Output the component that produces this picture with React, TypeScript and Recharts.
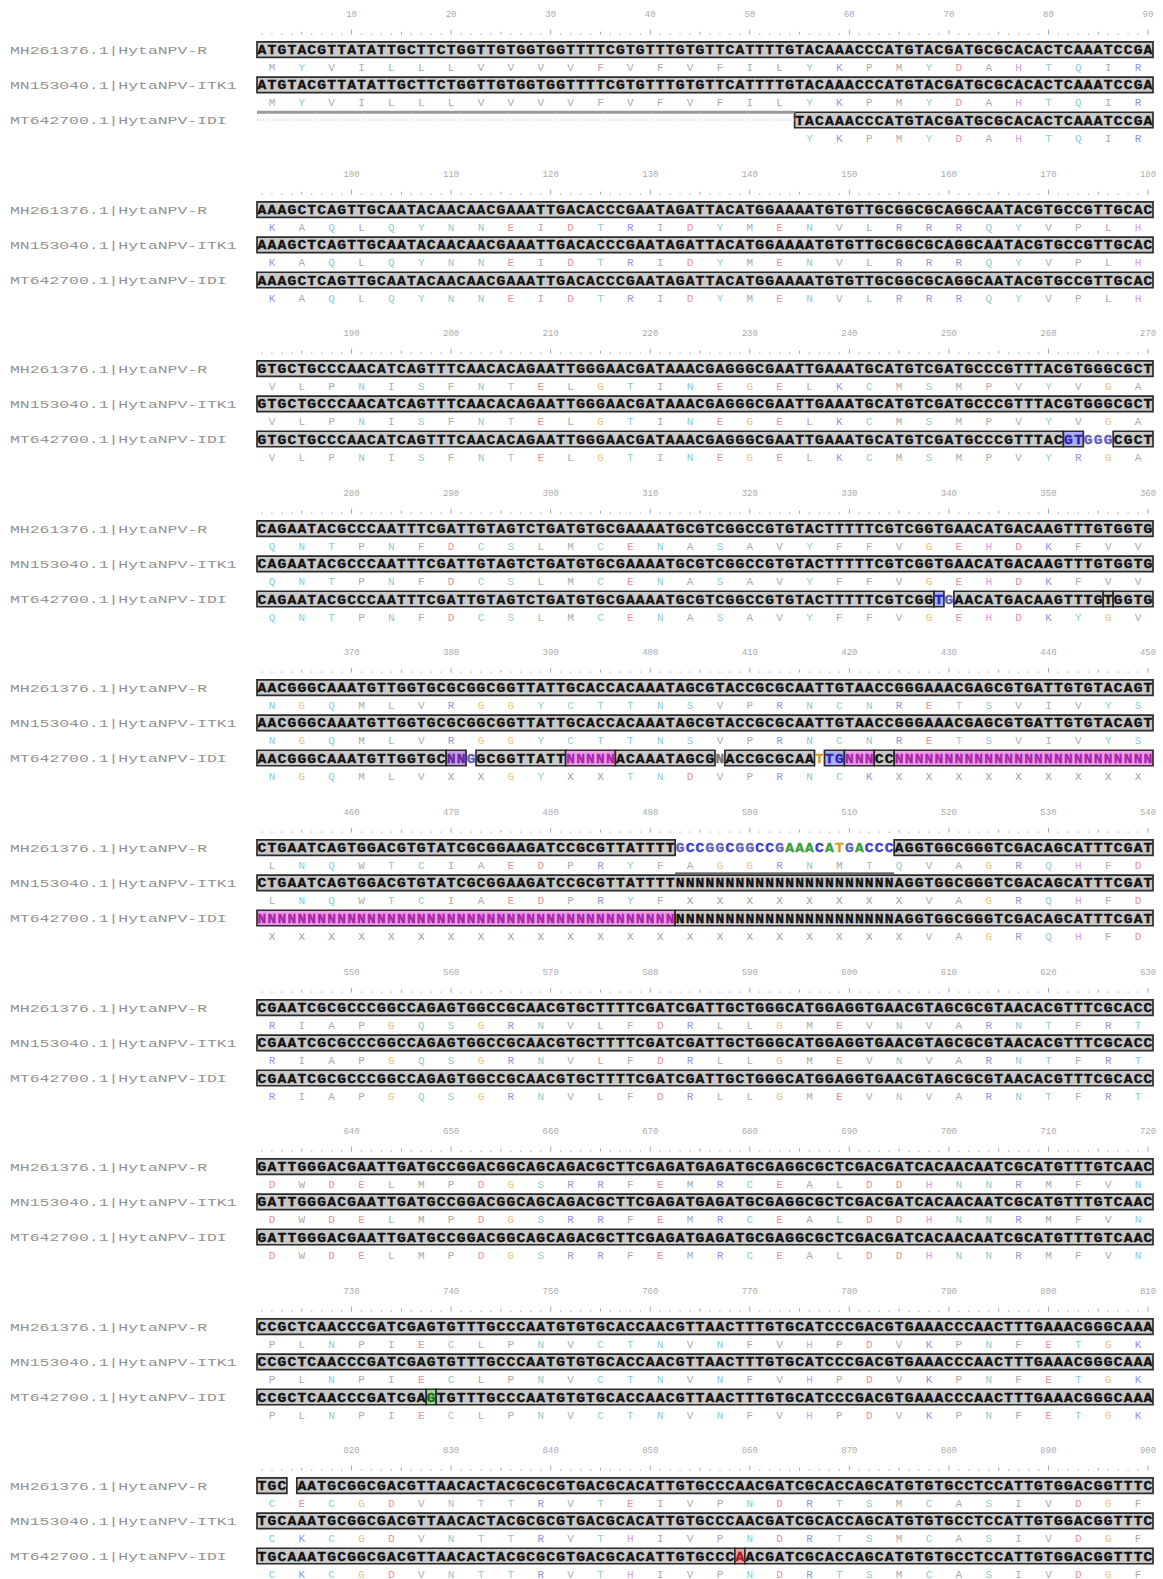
import { ScatterChart, Scatter, XAxis, YAxis, ReferenceArea, ReferenceLine } from "recharts"

// sequence names shown on the left of every block
const seqNames = ["MH261376.1|HytaNPV-R", "MN153040.1|HytaNPV-ITK1", "MT642700.1|HytaNPV-IDI"]
const blockStarts = [0, 90, 180, 270, 360, 450, 540, 630, 720, 810]
const rulerTicks = [10, 20, 30, 40, 50, 60, 70, 80, 90]

// nucleotides, written codon by codon ("-" = gap)
const ntR = [
  "ATG TAC GTT ATA TTG CTT CTG GTT GTG GTG GTT TTC GTG TTT GTG TTC ATT TTG TAC AAA CCC ATG TAC GAT GCG CAC ACT CAA ATC CGA",
  "AAA GCT CAG TTG CAA TAC AAC AAC GAA ATT GAC ACC CGA ATA GAT TAC ATG GAA AAT GTG TTG CGG CGC AGG CAA TAC GTG CCG TTG CAC",
  "GTG CTG CCC AAC ATC AGT TTC AAC ACA GAA TTG GGA ACG ATA AAC GAG GGC GAA TTG AAA TGC ATG TCG ATG CCC GTT TAC GTG GGC GCT",
  "CAG AAT ACG CCC AAT TTC GAT TGT AGT CTG ATG TGC GAA AAT GCG TCG GCC GTG TAC TTT TTC GTC GGT GAA CAT GAC AAG TTT GTG GTG",
  "AAC GGG CAA ATG TTG GTG CGC GGC GGT TAT TGC ACC ACA AAT AGC GTA CCG CGC AAT TGT AAC CGG GAA ACG AGC GTG ATT GTG TAC AGT",
  "CTG AAT CAG TGG ACG TGT ATC GCG GAA GAT CCG CGT TAT TTT GCC GGC GGC CGA AAC ATG ACC CAG GTG GCG GGT CGA CAG CAT TTC GAT",
  "CGA ATC GCG CCC GGC CAG AGT GGC CGC AAC GTG CTT TTC GAT CGA TTG CTG GGC ATG GAG GTG AAC GTA GCG CGT AAC ACG TTT CGC ACC",
  "GAT TGG GAC GAA TTG ATG CCG GAC GGC AGC AGA CGC TTC GAG ATG AGA TGC GAG GCG CTC GAC GAT CAC AAC AAT CGC ATG TTT GTC AAC",
  "CCG CTC AAC CCG ATC GAG TGT TTG CCC AAT GTG TGC ACC AAC GTT AAC TTT GTG CAT CCC GAC GTG AAA CCC AAC TTT GAA ACG GGC AAA",
  "TGC -AA TGC GGC GAC GTT AAC ACT ACG CGC GTG ACG CAC ATT GTG CCC AAC GAT CGC ACC AGC ATG TGT GCC TCC ATT GTG GAC GGT TTC",
]
const ntITK1 = [
  ntR[0], ntR[1], ntR[2], ntR[3], ntR[4],
  "CTG AAT CAG TGG ACG TGT ATC GCG GAA GAT CCG CGT TAT TTT NNN NNN NNN NNN NNN NNN NNN NAG GTG GCG GGT CGA CAG CAT TTC GAT",
  ntR[6], ntR[7], ntR[8],
  "TGC AAA TGC GGC GAC GTT AAC ACT ACG CGC GTG ACG CAC ATT GTG CCC AAC GAT CGC ACC AGC ATG TGT GCC TCC ATT GTG GAC GGT TTC",
]
const ntIDI = [
  "--- --- --- --- --- --- --- --- --- --- --- --- --- --- --- --- --- --- TAC AAA CCC ATG TAC GAT GCG CAC ACT CAA ATC CGA",
  ntR[1], ntR[2], ntR[3],
  "AAC GGG CAA ATG TTG GTG CNN GGC GGT TAT TNN NNN ACA AAT AGC GNA CCG CGC AAT TGN NNC CNN NNN NNN NNN NNN NNN NNN NNN NNN",
  "NNN NNN NNN NNN NNN NNN NNN NNN NNN NNN NNN NNN NNN NNN NNN NNN NNN NNN NNN NNN NNN NAG GTG GCG GGT CGA CAG CAT TTC GAT",
  ntR[6], ntR[7], ntR[8], ntITK1[9],
]

// translations, one letter per codon ("." = nothing drawn)
const aaR = [
  "MYVILLLVVVVFVFVFILYKPMYDAHTQIR",
  "KAQLQYNNEIDTRIDYMENVLRRRQYVPLH",
  "VLPNISFNTELGTINEGELKCMSMPVYVGA",
  "QNTPNFDCSLMCENASAVYFFVGEHDKFVV",
  "NGQMLVRGGYCTTNSVPRNCNRETSVIVYS",
  "LNQWTCIAEDPRYFAGGRNMTQVAGRQHFD",
  "RIAPGQSGRNVLFDRLLGMEVNVARNTFRT",
  "DWDELMPDGSRRFEMRCEALDDHNNRMFVN",
  "PLNPIECLPNVCTNVNFVHPDVKPNFETGK",
  "CECGDVNTTRVTEIVPNDRTSMCASIVDGF",
]
const aaITK1 = [
  aaR[0], aaR[1], aaR[2], aaR[3], aaR[4],
  "LNQWTCIAEDPRYFXXXXXXXXVAGRQHFD",
  aaR[6], aaR[7], aaR[8],
  "CKCGDVNTTRVTHIVPNDRTSMCASIVDGF",
]
const aaIDI = [
  "......" + "......" + "......" + "YKPMYDAHTQIR",
  aaR[1],
  "VLPNISFNTELGTINEGELKCMSMPVYRGA",
  "QNTPNFDCSLMCENASAVYFFVGEHDKYGV",
  "NGQMLVXXGYXXTNDVPRNCKXXXXXXXXX",
  "XXXXXXXXXX" + "XXXXXXXXXX" + "XX" + "VAGRQHFD",
  aaR[6], aaR[7], aaR[8], aaITK1[9],
]

// boxed stretches per block: [from, to, kind]
type Box = [number, number, string?]
const boxesR: Box[][] = [
  [[1, 90]], [[1, 90]], [[1, 90]], [[1, 90]], [[1, 90]],
  [[1, 42], [65, 90]],
  [[1, 90]], [[1, 90]], [[1, 90]],
  [[1, 3], [5, 90]],
]
const boxesITK1: Box[][] = [
  [[1, 90]], [[1, 90]], [[1, 90]], [[1, 90]], [[1, 90]],
  [[1, 90]], [[1, 90]], [[1, 90]], [[1, 90]], [[1, 90]],
]
const boxesIDI: Box[][] = [
  [[55, 90]],
  [[1, 90]],
  [[1, 81], [82, 83, "b"], [87, 90]],
  [[1, 68], [69, 69, "b"], [71, 85], [86, 86], [87, 90]],
  [[1, 19], [20, 21, "p"], [23, 31], [32, 36, "m"], [37, 46], [48, 56], [58, 59, "b"], [60, 62, "m"], [63, 64], [65, 90, "m"]],
  [[1, 42, "m"], [43, 90]],
  [[1, 90]], [[1, 90]],
  [[1, 17], [18, 18, "g"], [19, 90]],
  [[1, 48], [49, 49, "r"], [50, 90]],
]

// leading gap of MT642700 in block 1, underline under the R insertion in block 6
const gapRuns = [{ block: 0, seq: 2, from: 1, to: 54 }]
const underlines = [{ block: 5, seq: 0, from: 43, to: 64 }]

const seqRows = [2, 4, 6]
const aaRows = [3, 5, 7]
const ntSets = [ntR, ntITK1, ntIDI]
const aaSets = [aaR, aaITK1, aaIDI]
const boxSets = [boxesR, boxesITK1, boxesIDI]

const kindFill: Record<string, string> = {
  n: "#c9c9c9", m: "#ee9cea", b: "#adadf0", p: "#c29ce4", g: "#a0d6a0", r: "#f0a0a0",
}
const kindText: Record<string, string> = {
  n: "#111", m: "#a826a8", b: "#2626b0", p: "#6626a0", g: "#1c6c1c", r: "#a01c1c",
}
const ntColor: Record<string, string> = { A: "#38a038", C: "#3c3cd0", G: "#6262b8", T: "#d8a010", N: "#777" }
const aaColor: Record<string, string> = {
  D: "#e8909a", E: "#e8909a", K: "#9494e4", R: "#9494e4", H: "#d4a0e0", G: "#e6c47c",
  Y: "#8cccd0", N: "#8cccd0", Q: "#8cccd0", S: "#8cccd0", T: "#8cccd0", C: "#8cccd0",
  X: "#9a9a9a",
}

const clean = (s: string) => s.replace(/ /g, "")

function kindAt(boxes: Box[], pos: number) {
  for (const bx of boxes) if (pos >= bx[0] && pos <= bx[1]) return bx[2] || "n"
  return null
}

function ntPoints(b: number) {
  const pts: any[] = []
  ntSets.forEach((set, r) => {
    const s = clean(set[b])
    for (let i = 0; i < s.length; i++) {
      const c = s[i]
      if (c === "-") continue
      const k = kindAt(boxSets[r][b], i + 1)
      pts.push({ x: i + 1, y: seqRows[r], c, fill: k ? kindText[k] : ntColor[c] })
    }
  })
  return pts
}

function aaPoints(b: number) {
  const pts: any[] = []
  aaSets.forEach((set, r) => {
    const s = set[b]
    for (let k = 0; k < s.length; k++) {
      const c = s[k]
      if (c === ".") continue
      pts.push({ x: k * 3 + 2, y: aaRows[r], c, fill: aaColor[c] || "#ababab" })
    }
  })
  return pts
}

const rulerPoints = rulerTicks.flatMap((t) => [t - 9, t - 8, t - 7, t - 6, t - 5, t - 4, t - 3, t - 2, t - 1, t]).map((x) => ({ x, y: 1 }))

const mono = "'Liberation Mono', 'DejaVu Sans Mono', monospace"

function RulerMark(props: any) {
  const { cx, cy, payload } = props
  const h = payload.x % 10 === 0 ? 5 : payload.x % 5 === 0 ? 3 : 0
  if (h === 0) return <rect x={cx - 0.6} y={cy + 1.5} width={1.2} height={1.2} fill="#a8a8a8" />
  return <line x1={cx} x2={cx} y1={cy + 2.7} y2={cy + 2.7 - h} stroke="#a8a8a8" strokeWidth={1} />
}

function NtLetter(props: any) {
  const { cx, cy, payload } = props
  return (
    <text x={cx} y={cy} dy="0.36em" textAnchor="middle" fontFamily={mono} fontWeight="bold"
      fontSize={12.5} fill={payload.fill} stroke={payload.fill} strokeWidth={0.35}
      textLength={8.8} lengthAdjust="spacingAndGlyphs">
      {payload.c}
    </text>
  )
}

function AaLetter(props: any) {
  const { cx, cy, payload } = props
  return (
    <text x={cx} y={cy} dy="0.36em" textAnchor="middle" fontFamily={mono} fontSize={11} fill={payload.fill}>
      {payload.c}
    </text>
  )
}

function Block({ b }: { b: number }) {
  const start = blockStarts[b]
  return (
    <div style={{ position: "absolute", top: b * 159.6, left: 0 }}>
      <ScatterChart width={1163} height={160} margin={{ top: 0.4, right: 10, bottom: 4.8, left: 0 }}>
        <XAxis
          type="number"
          dataKey="x"
          domain={[0.5, 90.5]}
          ticks={rulerTicks}
          interval={0}
          orientation="top"
          height={14}
          axisLine={false}
          tickLine={false}
          tick={(p: any) => (
            <text x={p.x} y={17} textAnchor="middle" fontFamily={mono} fontSize={9} fill="#ababab">
              {p.payload.value + start}
            </text>
          )}
        />
        <YAxis
          type="number"
          dataKey="y"
          domain={[0, 8]}
          reversed
          ticks={seqRows}
          interval={0}
          width={257}
          axisLine={false}
          tickLine={false}
          tick={(p: any) => {
            const name = seqNames[seqRows.indexOf(p.payload.value)]
            return (
              <text x={10} y={p.y} dy="0.36em" fontFamily={mono} fontSize={11} fill="#929292"
                textLength={name.length * 9.85} lengthAdjust="spacingAndGlyphs">
                {name}
              </text>
            )
          }}
        />
        {boxSets.map((set, r) =>
          set[b].map((bx, i) => (
            <ReferenceArea
              key={`box-${r}-${i}`}
              x1={bx[0] - 0.5}
              x2={bx[1] + 0.5}
              y1={seqRows[r] - 0.44}
              y2={seqRows[r] + 0.44}
              fill={kindFill[bx[2] || "n"]}
              fillOpacity={1}
              stroke="#2c2c2c"
              strokeWidth={1.7}
            />
          ))
        )}
        {gapRuns.filter((g) => g.block === b).map((g, i) => (
          <ReferenceLine
            key={`gap-${i}`}
            segment={[{ x: g.from - 0.5, y: seqRows[g.seq] - 0.44 }, { x: g.to + 0.5, y: seqRows[g.seq] - 0.44 }]}
            stroke="#9a9a9a"
            strokeWidth={3}
          />
        ))}
        {gapRuns.filter((g) => g.block === b).map((g, i) => (
          <ReferenceLine
            key={`gapdot-${i}`}
            segment={[{ x: g.from - 0.5, y: seqRows[g.seq] }, { x: g.to + 0.5, y: seqRows[g.seq] }]}
            stroke="#d0a0b0"
            strokeWidth={1}
            strokeDasharray="1 2"
          />
        ))}
        {underlines.filter((u) => u.block === b).map((u, i) => (
          <ReferenceLine
            key={`ul-${i}`}
            segment={[{ x: u.from - 0.5, y: aaRows[u.seq] + 0.45 }, { x: u.to + 0.5, y: aaRows[u.seq] + 0.45 }]}
            stroke="#333"
            strokeWidth={1.2}
          />
        ))}
        <Scatter data={rulerPoints} shape={RulerMark} isAnimationActive={false} />
        <Scatter data={ntPoints(b)} shape={NtLetter} isAnimationActive={false} />
        <Scatter data={aaPoints(b)} shape={AaLetter} isAnimationActive={false} />
      </ScatterChart>
    </div>
  )
}

export default function App() {
  return (
    <div style={{ position: "relative", width: 1163, height: 1579, overflow: "hidden", background: "#fff" }}>
      <style>{"body{margin:0}"}</style>
      {blockStarts.map((s, b) => (
        <Block key={s} b={b} />
      ))}
    </div>
  )
}
